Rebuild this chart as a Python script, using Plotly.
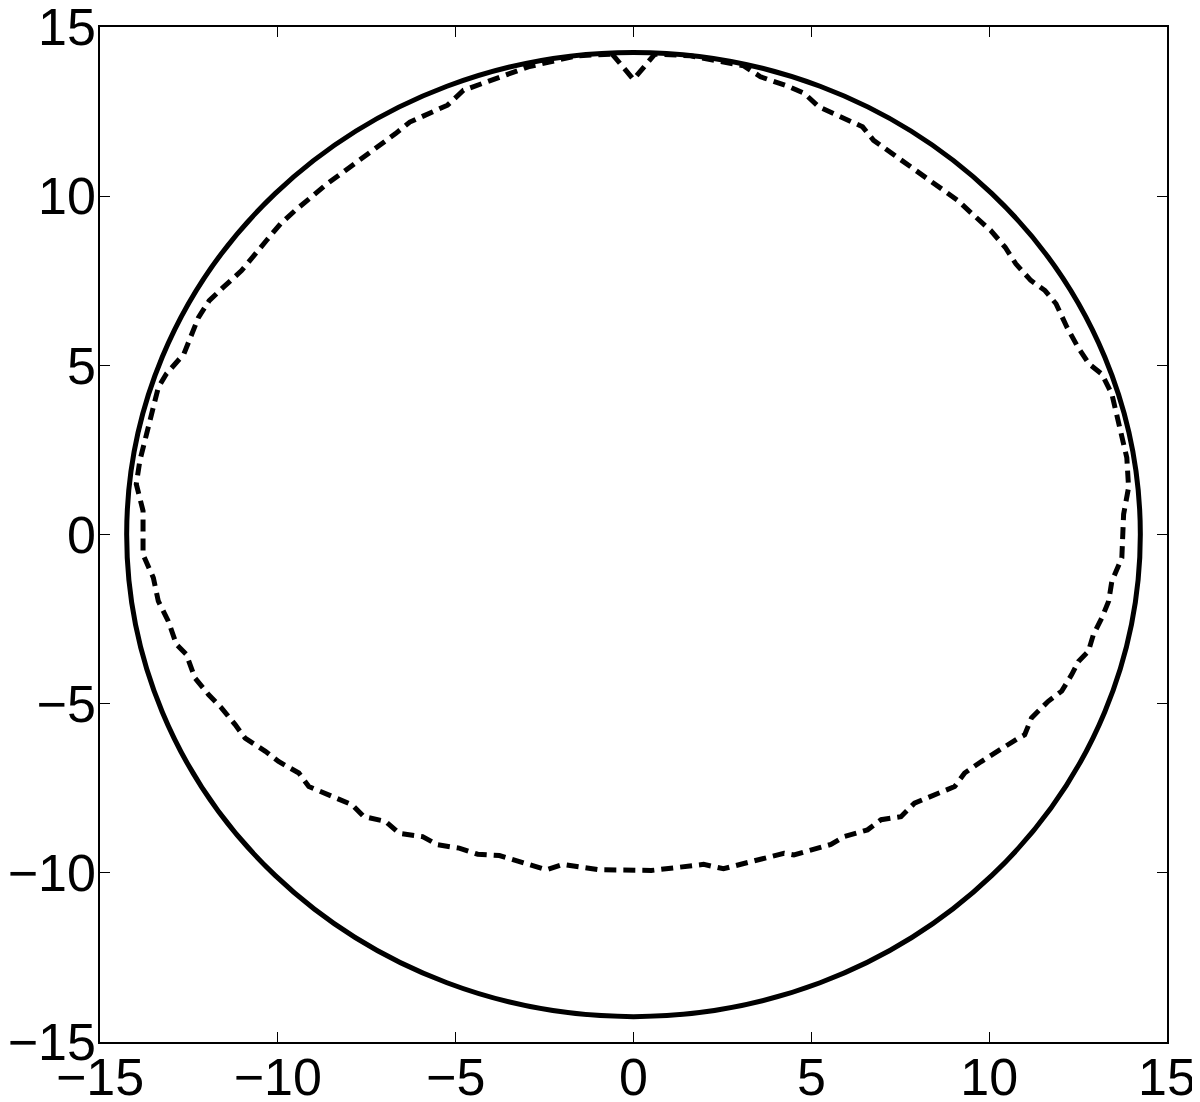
import plotly.graph_objects as go

# solid reference circle (centre and radius)
circle_x0 = 0.0
circle_y0 = 0.0
circle_r = 14.25

# dashed boundary, going clockwise from the top notch
boundary_x = [
    -0.6, 0.0, 0.6, 1.6, 3.1, 3.57, 4.39, 4.80, 5.21, 5.73, 6.44, 6.75, 7.27,
    7.98, 8.50, 9.11, 9.52, 10.04, 10.45, 10.75, 11.17, 11.57, 11.88, 12.19,
    12.50, 12.81, 13.17, 13.45, 13.87, 13.92, 13.78, 13.73, 13.45, 13.36,
    13.17, 12.93, 12.79, 12.51, 12.32, 12.04, 11.66, 11.47, 11.19, 11.00,
    10.82, 9.78, 9.31, 9.03, 7.90, 7.52, 6.96, 6.58, 5.92, 5.55, 4.51, 4.23,
    2.53, 1.97, 0.5, -0.95, -1.98, -2.45, -3.77, -4.38, -4.90, -5.51, -5.93,
    -6.59, -6.97, -7.58, -7.91, -8.47, -9.13, -9.41, -9.98, -10.35, -10.92,
    -11.20, -11.58, -11.95, -12.33, -12.57, -12.85, -13.08, -13.36, -13.50,
    -13.79, -13.79, -13.93, -13.98, -13.88, -13.65, -13.36, -13.14, -12.64,
    -12.23, -11.93, -11.53, -11.02, -10.32, -9.92, -9.51, -8.61, -8.10,
    -7.19, -6.69, -6.29, -5.23, -4.78, -2.96, -1.6, -0.6,
]
boundary_y = [
    14.2, 13.45, 14.2, 14.15, 13.85, 13.53, 13.23, 13.04, 12.64, 12.39,
    12.05, 11.65, 11.26, 10.76, 10.37, 9.88, 9.48, 8.99, 8.49, 8.00, 7.51,
    7.21, 6.82, 6.12, 5.53, 5.04, 4.74, 4.15, 2.27, 1.39, 0.60, -0.69, -1.38,
    -1.97, -2.46, -2.96, -3.45, -3.75, -4.14, -4.63, -4.93, -5.13, -5.42,
    -5.92, -6.02, -6.71, -7.05, -7.45, -7.94, -8.34, -8.43, -8.73, -8.93,
    -9.16, -9.47, -9.42, -9.88, -9.75, -9.93, -9.91, -9.75, -9.91, -9.49,
    -9.45, -9.27, -9.17, -8.93, -8.83, -8.48, -8.34, -7.99, -7.74, -7.45,
    -7.05, -6.71, -6.41, -6.02, -5.62, -5.13, -4.73, -4.24, -3.55, -3.25,
    -2.56, -1.97, -1.28, -0.59, 0.70, 1.19, 1.49, 2.18, 3.16, 4.35, 4.74,
    5.34, 6.42, 6.91, 7.31, 7.80, 8.69, 9.19, 9.58, 10.37, 10.76, 11.45,
    11.85, 12.19, 12.69, 13.13, 13.82, 14.15, 14.2,
]

tick_vals = [-15, -10, -5, 0, 5, 10, 15]

fig = go.Figure()

fig.add_trace(go.Scatter(
    x=boundary_x, y=boundary_y, mode="lines",
    line=dict(color="black", width=5, dash="12px,7px"),
    showlegend=False, hoverinfo="skip",
))

fig.add_shape(
    type="circle", xref="x", yref="y",
    x0=circle_x0 - circle_r, x1=circle_x0 + circle_r,
    y0=circle_y0 - circle_r, y1=circle_y0 + circle_r,
    line=dict(color="black", width=5),
)

axis_style = dict(
    range=[-15, 15], tickvals=tick_vals, ticks="inside", ticklen=10,
    tickwidth=1.2, tickcolor="black", showline=True, linecolor="black",
    linewidth=1.5, mirror="ticks", showgrid=False, zeroline=False,
    automargin=False, ticklabeloverflow="allow",
    tickfont=dict(family="Liberation Sans, Arial", size=52, color="black"),
)

fig.update_xaxes(**axis_style, ticklabelstandoff=-11)
fig.update_yaxes(**axis_style, ticklabelstandoff=-8)

# the page body adds an 8px offset, so margins are trimmed to match
fig.update_layout(
    width=1200, height=1102,
    margin=dict(l=92, r=41, t=19, b=68),
    plot_bgcolor="white", paper_bgcolor="white",
)

fig.write_html("out.html")
